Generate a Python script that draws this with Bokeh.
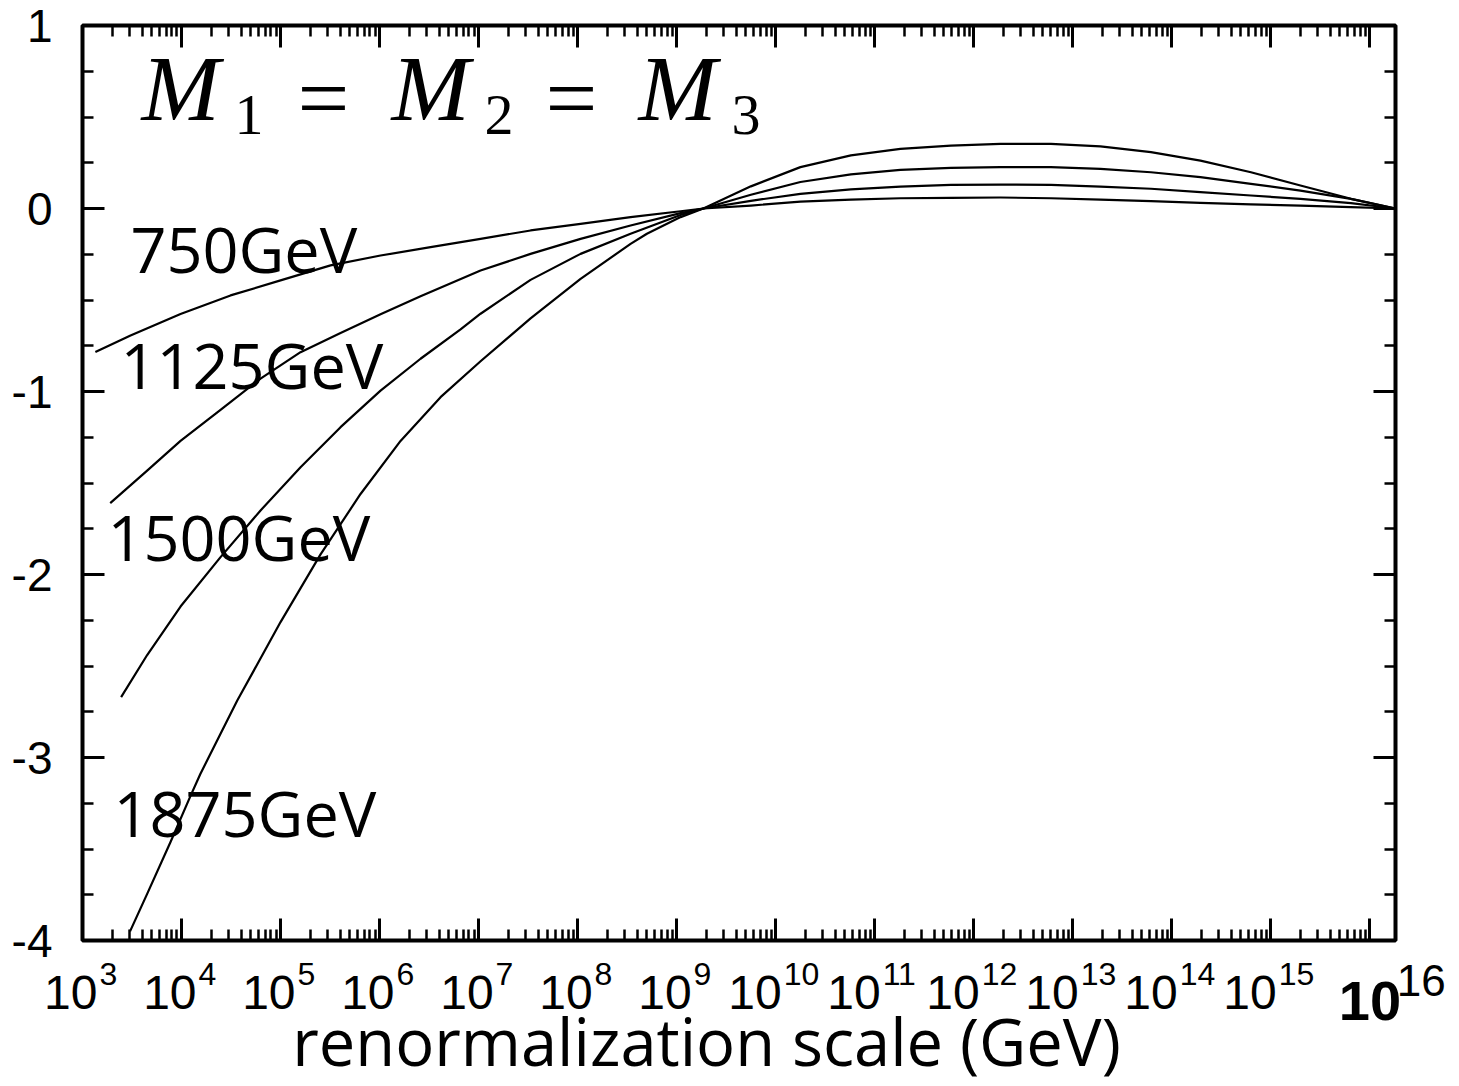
import numpy as np
from bokeh.plotting import figure
from bokeh.models import Range1d, FixedTicker, LinearAxis, LogAxis
from bokeh.core.properties import value
from bokeh.embed import file_html
from bokeh.resources import INLINE

# ---------------- data ----------------
# log10 of the renormalization scale (GeV) and the plotted quantity
logmu_750 = [3.13, 3.485, 3.99, 4.495, 5.00, 5.505, 6.01, 6.515, 7.02, 7.525, 8.03, 8.535,
             9.04, 9.27, 9.75, 10.25, 10.76, 11.26, 11.77, 12.27, 12.78, 13.28, 13.79,
             14.29, 14.80, 15.30, 15.81, 16.26]
val_750 = [-0.784, -0.694, -0.576, -0.475, -0.393, -0.311, -0.257, -0.211, -0.166, -0.120,
           -0.084, -0.047, -0.015, 0.0, 0.016, 0.038, 0.049, 0.056, 0.058, 0.060, 0.056,
           0.049, 0.040, 0.031, 0.022, 0.016, 0.007, 0.0]

logmu_1125 = [3.28, 3.653, 3.99, 4.394, 4.798, 5.202, 5.606, 6.01, 6.414, 7.02, 7.525, 8.03,
              8.535, 9.04, 9.27, 9.75, 10.25, 10.76, 11.26, 11.77, 12.27, 12.78, 13.28,
              13.79, 14.29, 14.80, 15.30, 15.81, 16.26]
val_1125 = [-1.61, -1.432, -1.27, -1.10, -0.93, -0.785, -0.68, -0.578, -0.48, -0.339,
            -0.248, -0.166, -0.093, -0.025, 0.0, 0.042, 0.080, 0.104, 0.120, 0.129, 0.131,
            0.129, 0.120, 0.108, 0.089, 0.071, 0.053, 0.029, 0.0]

logmu_1500 = [3.39, 3.653, 3.99, 4.394, 4.798, 5.202, 5.606, 6.01, 6.414, 6.818, 7.02, 7.525,
              8.03, 8.535, 9.04, 9.27, 9.75, 10.25, 10.76, 11.26, 11.77, 12.27, 12.78,
              13.28, 13.79, 14.29, 14.80, 15.30, 15.81, 16.26]
val_1500 = [-2.67, -2.44, -2.175, -1.905, -1.65, -1.414, -1.195, -0.995, -0.821, -0.66,
            -0.575, -0.39, -0.248, -0.138, -0.035, 0.0, 0.075, 0.145, 0.186, 0.211, 0.222,
            0.226, 0.226, 0.217, 0.198, 0.171, 0.135, 0.098, 0.053, 0.0]

logmu_1875 = [3.48, 3.653, 3.89, 4.091, 4.19, 4.394, 4.563, 5.00, 5.404, 5.808, 6.212, 6.616,
              7.02, 7.525, 8.03, 8.535, 8.70, 9.04, 9.27, 9.75, 10.25, 10.76, 11.26, 11.77,
              12.27, 12.78, 13.28, 13.79, 14.29, 14.80, 15.30, 15.81, 16.26]
val_1875 = [-3.95, -3.745, -3.46, -3.21, -3.09, -2.870, -2.689, -2.26, -1.89, -1.56,
            -1.27, -1.031, -0.835, -0.600, -0.385, -0.193, -0.138, -0.047, 0.0, 0.121,
            0.226, 0.290, 0.326, 0.344, 0.353, 0.353, 0.339, 0.308, 0.262, 0.198, 0.126,
            0.053, 0.0]

mass_labels = ["750GeV", "1125GeV", "1500GeV", "1875GeV"]
x_exponents = list(range(3, 16))          # labelled decades 10^3 .. 10^15
y_ticks = [-4, -3, -2, -1, 0, 1]
y_tick_labels = ["-4", "-3", "-2", "-1", "0", "1"]
x_title = "renormalization scale (GeV)"

# ---------------- layout ----------------
X_MIN, X_MAX = 1e3, 10 ** 16.26
Y_MIN, Y_MAX = -4, 1
FL, FR, FT, FB = 82, 1395, 25, 940      # where the plotting box sits on the page
W, H = 1459, 1086


def xd(px):
    lo, hi = np.log10(X_MIN), np.log10(X_MAX)
    return 10 ** (lo + (px - FL) / (FR - FL) * (hi - lo))


def yd(py):
    return Y_MAX - (py - FT) / (FB - FT) * (Y_MAX - Y_MIN)


# the drawing area covers the whole page; the box is drawn with fixed-location axes
p = figure(width=W, height=H, x_axis_type="log",
           x_range=Range1d(xd(0), xd(W)), y_range=Range1d(yd(H), yd(0)),
           output_backend="svg", toolbar_location=None,
           min_border_left=0, min_border_right=0, min_border_top=0, min_border_bottom=0)
p.xgrid.visible = False
p.ygrid.visible = False
p.outline_line_color = None
p.background_fill_color = "white"
p.border_fill_color = "white"

x_major = [10.0 ** n for n in range(3, 17)]
x_minor = [k * 10.0 ** n for n in range(3, 17) for k in range(2, 10) if k * 10.0 ** n < X_MAX]
y_minor = [t / 4 for t in range(-16, 5)]


def style(ax, labels):
    ax.axis_line_color = None
    ax.major_tick_line_width = 3
    ax.minor_tick_line_width = 2.5
    ax.major_tick_line_color = "black"
    ax.minor_tick_line_color = "black"
    ax.major_tick_in = 22
    ax.major_tick_out = 0
    ax.minor_tick_in = 11
    ax.minor_tick_out = 0
    if not labels:
        ax.major_label_text_alpha = 0
        ax.major_label_text_font_size = "2px"
        ax.major_label_standoff = 0


bx = p.xaxis[0]
bx.ticker = FixedTicker(ticks=x_major, minor_ticks=x_minor)
bx.fixed_location = Y_MIN
bx.bounds = (X_MIN, X_MAX)
style(bx, False)

tx = LogAxis(ticker=FixedTicker(ticks=x_major, minor_ticks=x_minor),
             fixed_location=Y_MAX, bounds=(X_MIN, X_MAX))
style(tx, False)
p.add_layout(tx, "above")

ly = p.yaxis[0]
ly.ticker = FixedTicker(ticks=y_ticks, minor_ticks=y_minor)
ly.fixed_location = X_MIN
ly.bounds = (Y_MIN, Y_MAX)
style(ly, True)
ly.major_label_overrides = {t: s for t, s in zip(y_ticks, y_tick_labels)}
ly.major_label_text_font = "Liberation Sans"
ly.major_label_text_font_size = "46px"
ly.major_label_text_color = "black"
ly.major_label_standoff = 30

ry = LinearAxis(ticker=FixedTicker(ticks=y_ticks, minor_ticks=y_minor),
                fixed_location=X_MAX, bounds=(Y_MIN, Y_MAX))
style(ry, False)
p.add_layout(ry, "right")

# plotting box
p.quad(left=[X_MIN], right=[X_MAX], bottom=[Y_MIN], top=[Y_MAX],
       fill_color=None, line_color="black", line_width=4)

# curves
for lm, v in [(logmu_750, val_750), (logmu_1125, val_1125),
              (logmu_1500, val_1500), (logmu_1875, val_1875)]:
    p.line(10 ** np.array(lm), v, line_color="black", line_width=2.2, line_join="round")

# mass labels (left edge, vertical centre in page pixels)
lab_px = [(130, 248), (120, 364), (107, 536), (113, 812)]
p.text(x=[xd(a) for a, b in lab_px], y=[yd(b) for a, b in lab_px], text=mass_labels,
       text_font=value("Open Sans"), text_font_size="63px", text_color="black",
       text_align="left", text_baseline="middle")

# M_1 = M_2 = M_3
pieces = [("M", 141, 87, "italic", "94px"), ("1", 234, 114, "normal", "58px"),
          ("=", 297, 97, "normal", "92px"),
          ("M", 391, 87, "italic", "94px"), ("2", 484, 114, "normal", "58px"),
          ("=", 545, 97, "normal", "92px"),
          ("M", 638, 87, "italic", "94px"), ("3", 731, 114, "normal", "58px")]
for txt, px, py, st, size in pieces:
    p.text(x=[xd(px)], y=[yd(py)], text=[txt], text_font=value("Liberation Serif"),
           text_font_style=st, text_font_size=size, text_color="black",
           text_align="left", text_baseline="middle")

# x tick labels: "10" + superscript exponent, centred on each decade
xs = [10.0 ** n for n in x_exponents]
base_off = [15 if n < 10 else 6 for n in x_exponents]
sup_off = [17 if n < 10 else 8 for n in x_exponents]
p.text(x=xs, y=[yd(992)] * len(xs), text=["10"] * len(xs), x_offset=base_off,
       text_font=value("Liberation Sans"), text_font_size="48px", text_color="black",
       text_align="right", text_baseline="middle")
p.text(x=xs, y=[yd(973)] * len(xs), text=[str(n) for n in x_exponents], x_offset=sup_off,
       text_font=value("Liberation Sans"), text_font_size="32px", text_color="black",
       text_align="left", text_baseline="middle")
# bold 10^16
p.text(x=[1e16], y=[yd(1000)], text=["10"], x_offset=-31,
       text_font=value("Liberation Sans"), text_font_style="bold", text_font_size="56px",
       text_color="black", text_align="left", text_baseline="middle")
p.text(x=[1e16], y=[yd(980)], text=["16"], x_offset=27,
       text_font=value("Liberation Sans"), text_font_size="44px",
       text_color="black", text_align="left", text_baseline="middle")
# axis title
p.text(x=[xd(706)], y=[yd(1040)], text=[x_title],
       text_font=value("Open Sans"), text_font_size="65px", text_color="black",
       text_align="center", text_baseline="middle")

open("out.html", "w").write(file_html(p, INLINE))
